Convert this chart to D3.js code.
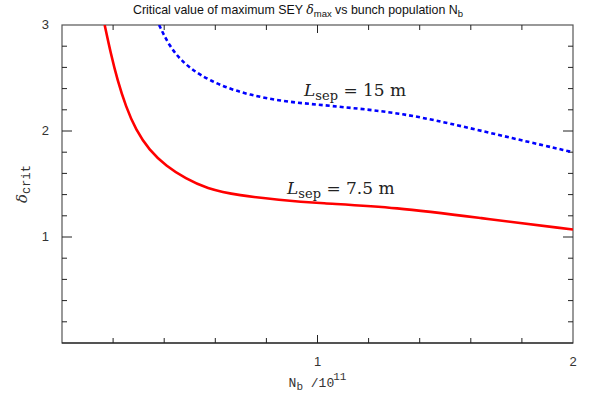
<!DOCTYPE html>
<html>
<head>
<meta charset="utf-8">
<script src="https://cdn.jsdelivr.net/npm/d3@7"></script>
<style>
  body { margin: 0; background: #fff; }
  svg { display: block; }
</style>
</head>
<body>
<div id="chart"></div>
<script>
// bunch population (1e11) and critical SEY
const nbShort = [0.167, 0.191, 0.217, 0.25, 0.289, 0.341, 0.407, 0.485, 0.563, 0.694, 0.85, 1.0, 1.309, 1.635, 2.0];
const deltaShort = [3.0, 2.73, 2.48, 2.23, 2.01, 1.82, 1.67, 1.55, 1.46, 1.39, 1.35, 1.32, 1.28, 1.18, 1.07];
const nbLong = [0.38, 0.42, 0.472, 0.537, 0.629, 0.733, 0.864, 0.995, 1.125, 1.32, 1.505, 1.766, 2.0];
const deltaLong = [3.0, 2.80, 2.65, 2.53, 2.42, 2.34, 2.28, 2.25, 2.22, 2.17, 2.08, 1.93, 1.80];
const xTickLabels = [1, 2];
const yTickLabels = [1, 2, 3];

const width = 589, height = 396;
const margin = { top: 25, right: 16, bottom: 53, left: 62 };

const svg = d3.select('#chart').append('svg')
  .attr('width', width)
  .attr('height', height);

const x = d3.scaleLinear().domain([0, 2]).range([margin.left, width - margin.right]);
const y = d3.scaleLinear().domain([0, 3]).range([height - margin.bottom, margin.top]);

const minor = d3.range(1, 10).map(i => i * 0.2);
const yMinor = d3.range(1, 15).map(i => i * 0.2);
const axisColor = '#555';

// frame
svg.append('rect')
  .attr('x', x(0)).attr('y', y(3))
  .attr('width', x(2) - x(0)).attr('height', y(0) - y(3))
  .attr('fill', 'none').attr('stroke', axisColor).attr('stroke-width', 1.2);
svg.append('line')
  .attr('x1', x(0)).attr('x2', x(2)).attr('y1', y(0)).attr('y2', y(0))
  .attr('stroke', '#111').attr('stroke-width', 1.2);

const ticks = svg.append('g').attr('stroke', '#222').attr('stroke-width', 1);
const isMajor = v => Math.abs(v - Math.round(v)) < 1e-6;

// x ticks, bottom and top, inward
minor.forEach(v => {
  const len = isMajor(v) ? 8 : 5;
  ticks.append('line').attr('x1', x(v)).attr('x2', x(v)).attr('y1', y(0)).attr('y2', y(0) - len);
  ticks.append('line').attr('x1', x(v)).attr('x2', x(v)).attr('y1', y(3)).attr('y2', y(3) + len);
});
// y ticks, left and right, inward
yMinor.forEach(v => {
  const len = isMajor(v) ? 10 : 5;
  ticks.append('line').attr('x1', x(0)).attr('x2', x(0) + len).attr('y1', y(v)).attr('y2', y(v));
  ticks.append('line').attr('x1', x(2)).attr('x2', x(2) - len).attr('y1', y(v)).attr('y2', y(v));
});

svg.append('g').selectAll('text')
  .data(xTickLabels).join('text')
  .attr('x', d => x(d)).attr('y', y(0) + 23)
  .attr('text-anchor', 'middle')
  .style('font-family', 'Liberation Sans, Arial, sans-serif')
  .style('font-size', '13px').attr('fill', '#333')
  .text(d => d);

svg.append('g').selectAll('text')
  .data(yTickLabels).join('text')
  .attr('x', x(0) - 13).attr('y', d => y(d) + 4)
  .attr('text-anchor', 'end')
  .style('font-family', 'Liberation Sans, Arial, sans-serif')
  .style('font-size', '13px').attr('fill', '#333')
  .text(d => d);

// curves
svg.append('clipPath').attr('id', 'clip').append('rect')
  .attr('x', x(0)).attr('y', y(3)).attr('width', x(2) - x(0)).attr('height', y(0) - y(3));

const line = d3.line().x(d => x(d[0])).y(d => y(d[1])).curve(d3.curveBasis);

svg.append('path')
  .datum(d3.zip(nbShort, deltaShort))
  .attr('clip-path', 'url(#clip)')
  .attr('fill', 'none').attr('stroke', '#ff0000').attr('stroke-width', 2.6)
  .attr('d', line);

svg.append('path')
  .datum(d3.zip(nbLong, deltaLong))
  .attr('clip-path', 'url(#clip)')
  .attr('fill', 'none').attr('stroke', '#0000ff').attr('stroke-width', 2.6)
  .attr('stroke-dasharray', '4,3')
  .attr('d', line);

// curve labels
function sepLabel(px, py, val) {
  const t = svg.append('text').attr('x', px).attr('y', py)
    .style('font-family', 'DejaVu Serif, Liberation Serif, serif')
    .style('font-size', '17px').attr('fill', '#222');
  t.append('tspan').style('font-style', 'italic').text('L');
  t.append('tspan').attr('dy', 4).style('font-size', '13px').text('sep');
  t.append('tspan').attr('dy', -4).text(' = ' + val + ' m');
}
sepLabel(304, 96, '15');
sepLabel(287, 194, '7.5');

// title
const title = svg.append('text')
  .attr('x', 298).attr('y', 14).attr('text-anchor', 'middle')
  .style('font-family', 'Liberation Sans, Arial, sans-serif')
  .style('font-size', '12.4px').attr('fill', '#111');
title.append('tspan').text('Critical value of maximum SEY ');
title.append('tspan').style('font-family', 'DejaVu Serif, serif').style('font-style', 'italic').text('δ');
title.append('tspan').attr('dy', 3).style('font-size', '9.5px').text('max');
title.append('tspan').attr('dy', -3).text(' vs bunch population N');
title.append('tspan').attr('dy', 3).style('font-size', '9.5px').text('b');

// y label
const yl = svg.append('text')
  .attr('transform', `translate(27,${(y(0) + y(3)) / 2}) rotate(-90)`)
  .attr('text-anchor', 'middle').attr('fill', '#333');
yl.append('tspan').style('font-family', 'DejaVu Serif, serif').style('font-style', 'italic')
  .style('font-size', '15px').text('δ');
yl.append('tspan').attr('dy', 3).style('font-family', 'Liberation Mono, Courier New, monospace')
  .style('font-size', '12px').text('crit');

// x label
const xl = svg.append('text')
  .attr('x', x(1)).attr('y', 387).attr('text-anchor', 'middle')
  .style('font-family', 'Liberation Mono, Courier New, monospace')
  .style('font-size', '13px').attr('fill', '#333');
xl.append('tspan').text('N');
xl.append('tspan').attr('dy', 3).style('font-size', '11px').text('b');
xl.append('tspan').attr('dy', -3).text(' /10');
xl.append('tspan').attr('dy', -7).attr('dx', -1).style('font-size', '11px').text('11');
</script>
</body>
</html>
